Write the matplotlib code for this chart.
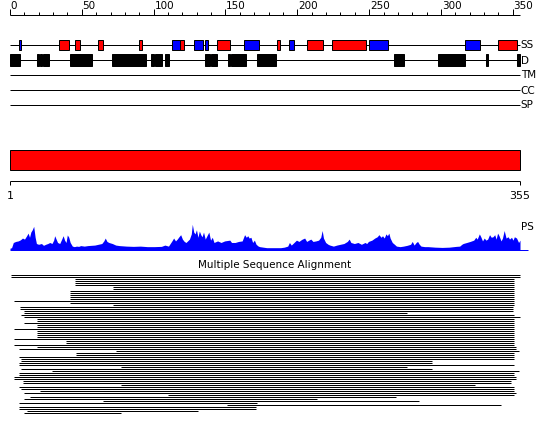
import matplotlib
matplotlib.use('Agg')
import matplotlib.pyplot as plt
from matplotlib.patches import Rectangle

seq_len = 355

# secondary structure, residue ranges
helix_start = [34, 45, 61, 90, 118, 144, 186, 207, 224, 340]
helix_end = [41, 49, 65, 92, 121, 153, 188, 218, 248, 353]
strand_start = [6, 113, 128, 136, 163, 194, 250, 317]
strand_end = [8, 118, 134, 138, 173, 198, 263, 327]

# disorder
dis_start = [0, 19, 21, 23, 42, 71, 98, 101, 108, 136, 140, 152, 154, 172, 267, 298, 331, 353]
dis_end = [7, 20, 22, 27, 57, 95, 100, 106, 111, 139, 144, 153, 164, 185, 274, 317, 333, 355]

track_labels = ['SS', 'D', 'TM', 'CC', 'SP']

# domain bar
domain_start = [1]
domain_end = [355]

# profile (PS)
ps_res = [0, 1.1, 2.3, 4.0, 5.7, 7.2, 8.7, 10.1, 11.6, 12.6,
          13.6, 14.5, 15.5, 16.5, 17.5, 18.4, 19.9, 21.9, 23.3, 24.8,
          26.3, 27.7, 29.2, 30.4, 31.1, 32.1, 33.1, 34.6, 36.0, 37.0,
          38.0, 39.0, 39.9, 40.9, 41.9, 43.4, 44.8, 46.3, 47.8, 49.2,
          51.7, 54.1, 56.5, 59.0, 61.4, 63.9, 65.3, 66.3, 67.5, 68.8,
          71.2, 73.6, 76.1, 81.0, 85.9, 90.7, 95.6, 100.5, 105.4, 107.8,
          110.3, 112.7, 113.9, 115.2, 116.4, 117.6, 118.8, 120.0, 121.3, 122.5,
          124.9, 126.2, 126.9, 127.9, 128.8, 129.8, 130.8, 131.8, 132.8, 133.7,
          134.7, 135.9, 137.1, 138.4, 139.6, 140.8, 142.0, 144.5, 146.9, 149.4,
          153.0, 154.2, 156.7, 159.1, 161.6, 163.3, 164.5, 165.5, 166.5, 167.7,
          168.9, 170.1, 171.3, 172.8, 173.8, 176.2, 178.7, 183.5, 188.4, 190.9,
          193.3, 194.5, 195.8, 197.7, 199.4, 201.1, 203.1, 205.1, 206.5, 208.0,
          209.4, 210.9, 212.9, 214.8, 216.3, 217.3, 218.2, 219.7, 221.4, 222.6,
          225.1, 227.5, 229.9, 232.4, 234.8, 236.1, 237.3, 239.7, 242.2, 244.6,
          247.1, 248.3, 249.5, 251.9, 253.9, 255.6, 256.8, 258.3, 259.3, 260.5,
          261.7, 262.7, 263.7, 264.6, 266.1, 267.6, 269.0, 271.5, 273.9, 276.4,
          278.8, 280.0, 281.3, 282.7, 283.7, 284.9, 286.1, 288.6, 291.0, 295.9,
          300.8, 305.7, 310.6, 313.0, 314.5, 315.4, 317.9, 320.3, 322.8, 324.2,
          325.2, 326.7, 327.7, 328.9, 330.1, 331.3, 332.5, 333.8, 335.0, 336.2,
          337.4, 338.4, 339.4, 340.4, 341.8, 342.8, 344.0, 345.3, 346.7, 347.7,
          349.1, 350.1, 351.1, 352.6, 354.0, 355.0]
ps_score = [0.05, 0.07, 0.27, 0.31, 0.33, 0.37, 0.44, 0.40, 0.53, 0.63,
            0.47, 0.67, 0.76, 0.89, 0.47, 0.23, 0.20, 0.23, 0.16, 0.20,
            0.23, 0.27, 0.23, 0.36, 0.53, 0.40, 0.27, 0.23, 0.40, 0.53,
            0.36, 0.27, 0.56, 0.47, 0.27, 0.13, 0.11, 0.13, 0.12, 0.15,
            0.13, 0.15, 0.16, 0.17, 0.20, 0.23, 0.33, 0.44, 0.31, 0.27,
            0.23, 0.17, 0.15, 0.13, 0.12, 0.13, 0.11, 0.11, 0.12, 0.17,
            0.13, 0.33, 0.44, 0.33, 0.40, 0.49, 0.57, 0.40, 0.31, 0.27,
            0.40, 0.60, 0.97, 0.67, 0.60, 0.76, 0.47, 0.71, 0.57, 0.49,
            0.67, 0.40, 0.53, 0.67, 0.36, 0.47, 0.27, 0.33, 0.27, 0.33,
            0.36, 0.27, 0.27, 0.31, 0.33, 0.57, 0.47, 0.53, 0.44, 0.47,
            0.27, 0.36, 0.20, 0.13, 0.11, 0.09, 0.07, 0.07, 0.07, 0.09,
            0.13, 0.27, 0.17, 0.27, 0.36, 0.31, 0.39, 0.44, 0.31, 0.36,
            0.40, 0.31, 0.33, 0.36, 0.47, 0.73, 0.44, 0.27, 0.20, 0.17,
            0.13, 0.17, 0.20, 0.23, 0.31, 0.40, 0.27, 0.23, 0.27, 0.20,
            0.27, 0.23, 0.31, 0.36, 0.44, 0.49, 0.57, 0.47, 0.53, 0.44,
            0.60, 0.53, 0.63, 0.44, 0.27, 0.20, 0.13, 0.11, 0.13, 0.16,
            0.20, 0.31, 0.17, 0.27, 0.31, 0.20, 0.13, 0.11, 0.11, 0.09,
            0.08, 0.09, 0.12, 0.13, 0.20, 0.23, 0.27, 0.31, 0.36, 0.47,
            0.40, 0.60, 0.49, 0.33, 0.44, 0.36, 0.40, 0.57, 0.47, 0.49,
            0.57, 0.40, 0.63, 0.53, 0.33, 0.44, 0.73, 0.44, 0.49, 0.40,
            0.47, 0.36, 0.49, 0.44, 0.27, 0.36]

# multiple sequence alignment: aligned range of each hit
msa_start = [1, 1, 45, 45, 45, 45, 72, 72, 42, 42,
             42, 42, 42, 3, 42, 72, 7, 7, 10, 10,
             8, 10, 19, 19, 10, 19, 19, 3, 19, 19,
             19, 19, 3, 39, 39, 3, 19, 6, 74, 46,
             46, 6, 8, 8, 6, 6, 77, 8, 29, 6,
             6, 3, 3, 9, 9, 77, 6, 8, 21, 10,
             110, 14, 10, 65, 6, 151, 6, 6, 12, 10]
msa_end = [355, 355, 351, 351, 351, 351, 351, 351, 351, 351,
           351, 351, 351, 351, 351, 351, 350, 350, 350, 276,
           351, 355, 351, 351, 351, 351, 351, 351, 351, 351,
           351, 351, 351, 351, 351, 351, 352, 352, 354, 351,
           351, 351, 351, 294, 294, 351, 276, 294, 354, 351,
           351, 352, 352, 349, 349, 324, 351, 351, 351, 352,
           351, 269, 214, 285, 172, 342, 171, 171, 131, 77]

W, H = 550, 435
ppr = 510 / seq_len
xlim = (-10 / ppr, (W - 10) / ppr)
px = 0.72  # one pixel in points

fig = plt.figure(figsize=(W / 100, H / 100), dpi=100)


def panel(top, bottom):
    a = fig.add_axes([0, 1 - bottom / H, 1, (bottom - top) / H])
    a.set_xlim(*xlim)
    a.axis('off')
    return a


ax = panel(0, H)
ax.set_ylim(H, 0)

# ruler
ax.hlines(15.5, 0, seq_len, color='k', lw=px)
for t in range(0, 351, 10):
    ax.vlines(t, 10 if t % 50 == 0 else 12.5, 15.5, color='k', lw=px)
    if t % 50 == 0:
        ax.text(t + 0.5, 9.3, str(t), ha='left', va='baseline', fontsize=7.5)

# tracks
track_y = [45.5, 60.5, 75.5, 90.5, 105.5]
for y, lab in zip(track_y, track_labels):
    ax.hlines(y, 0, seq_len, color='k', lw=px, zorder=1)
    ax.text(seq_len + 0.5, y, lab, ha='left', va='center', fontsize=7.5)

for s, e in zip(helix_start, helix_end):
    ax.add_patch(Rectangle((s, 40.5), e - s, 10, fc='#ff0000', ec='k', lw=px, zorder=2))
for s, e in zip(strand_start, strand_end):
    ax.add_patch(Rectangle((s, 40.5), e - s, 10, fc='#0000ff', ec='k', lw=px, zorder=2))
for s, e in zip(dis_start, dis_end):
    ax.add_patch(Rectangle((s, 55), e - s, 12, fc='k', ec='k', lw=px, zorder=2))

# domain bar + ruler
for s, e in zip(domain_start, domain_end):
    ax.add_patch(Rectangle((s - 1, 150.5), e - s + 1, 20, fc='#ff0000', ec='k', lw=px))
ax.hlines(181.5, 0, seq_len, color='k', lw=px)
ax.vlines([0, seq_len], 181.5, 186, color='k', lw=px)
ax.text(0.5, 196, '1', ha='center', va='center', fontsize=8)
ax.text(seq_len, 196, str(seq_len), ha='center', va='center', fontsize=8)

# PS profile
ax_ps = panel(224.5, 250.5)
ax_ps.set_ylim(0, 1.0)
ax_ps.fill_between(ps_res, 0, ps_score, color='#0000ff', lw=0)
ax_ps.hlines(0, 0, seq_len + 5.5, color='#0000ff', lw=px, clip_on=False)
ax.text(seq_len + 0.7, 227, 'PS', ha='left', va='center', fontsize=7.5)

# MSA
fig.text(0.5, 1 - 265 / H, 'Multiple Sequence Alignment', ha='center', va='center', fontsize=7.5)
n = len(msa_start)
ax_msa = panel(274.5, 274.5 + 2 * n)
ax_msa.set_ylim(n - 0.5, -0.5)
ax_msa.hlines(range(n), msa_start, msa_end, color='k', lw=px)

plt.savefig('out.png', dpi=100)
plt.close()
